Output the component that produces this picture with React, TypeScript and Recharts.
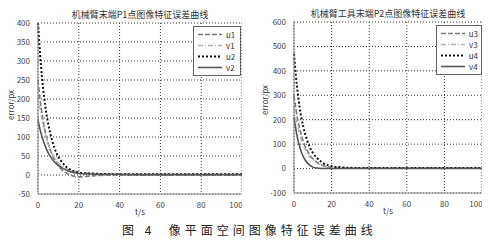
import { LineChart, Line, XAxis, YAxis, CartesianGrid } from "recharts";

const times = [0, 1, 2, 3, 4, 5, 6, 8, 10, 12, 15, 18, 20, 25, 30, 40, 50, 60, 70, 80, 90, 100];

// left panel (P1)
const u1 = [250, 200, 160, 128, 102, 82, 66, 42, 24, 12, 2, -4, -5, -3, -1, 0, 0, 0, 0, 0, 0, 0];
const v1 = [210, 175, 145, 120, 100, 83, 68, 46, 32, 23, 14, 10, 8, 5, 3, 2, 2, 2, 2, 2, 2, 2];
const u2 = [400, 320, 255, 205, 165, 135, 110, 72, 48, 32, 17, 9, 6, 4, 3, 2, 2, 2, 2, 2, 2, 2];
const v2 = [145, 120, 100, 84, 70, 58, 49, 35, 25, 18, 10, 6, 4, 3, 2, 2, 1, 1, 1, 1, 1, 1];

// right panel (P2)
const u3 = [300, 245, 200, 165, 135, 110, 90, 60, 40, 27, 14, 7, 5, 3, 2, 2, 2, 2, 2, 2, 2, 2];
const v3 = [250, 205, 170, 140, 115, 95, 78, 52, 35, 23, 12, 6, 4, 2, 1, 1, 1, 1, 1, 1, 1, 1];
const u4 = [470, 380, 310, 250, 205, 170, 140, 95, 65, 45, 25, 14, 10, 5, 3, 2, 2, 2, 2, 2, 2, 2];
const v4 = [210, 160, 120, 90, 66, 48, 34, 16, 6, 2, 0, 0, 0, 0, 0, 0, 0, 0, 0, 0, 0, 0];

const xTicks = [0, 20, 40, 60, 80, 100];
const leftYTicks = [-50, 0, 50, 100, 150, 200, 250, 300, 350, 400];
const rightYTicks = [-100, 0, 100, 200, 300, 400, 500, 600];

const leftNames = ["u1", "v1", "u2", "v2"];
const rightNames = ["u3", "v3", "u4", "v4"];

const leftData = times.map((t, i) => ({ t, u1: u1[i], v1: v1[i], u2: u2[i], v2: v2[i] }));
const rightData = times.map((t, i) => ({ t, u3: u3[i], v3: v3[i], u4: u4[i], v4: v4[i] }));

const styles = [
  { stroke: "#7a7a7a", dash: "5 2", width: 1.6 },
  { stroke: "#b0b0b0", dash: "5 2 1 2", width: 1.3 },
  { stroke: "#111111", dash: "2 2", width: 2 },
  { stroke: "#555555", dash: undefined, width: 1.6 },
];

const font = "'Noto Sans CJK SC', 'DejaVu Sans', sans-serif";
const tick = { fill: "#444", fontSize: 8, fontFamily: font };

const LegendBox = ({ names, left, top, width }: { names: string[]; left: number; top: number; width: number }) => (
  <div
    style={{
      position: "absolute",
      left,
      top,
      width,
      boxSizing: "border-box",
      background: "#fff",
      border: "1px solid #666",
      padding: "2px 3px",
      fontFamily: font,
      fontSize: 8,
      color: "#333",
      lineHeight: "11px",
    }}
  >
    {names.map((n, i) => (
      <div key={n} style={{ display: "flex", alignItems: "center" }}>
        <svg width={26} height={11}>
          <line
            x1={1}
            x2={25}
            y1={5.5}
            y2={5.5}
            stroke={styles[i].stroke}
            strokeWidth={styles[i].width}
            strokeDasharray={styles[i].dash}
          />
        </svg>
        <span style={{ marginLeft: 3 }}>{n}</span>
      </div>
    ))}
  </div>
);

const Panel = ({
  data,
  names,
  domain,
  yTicks,
  width,
}: {
  data: any[];
  names: string[];
  domain: [number, number];
  yTicks: number[];
  width: number;
}) => (
  <LineChart width={width} height={215} data={data} margin={{ top: 23, right: 0, left: 0, bottom: 1 }}>
    <CartesianGrid stroke="#333" strokeDasharray="1 2" />
    <XAxis
      dataKey="t"
      type="number"
      domain={[0, 100]}
      ticks={xTicks}
      tick={tick}
      height={20}
      stroke="#888"
      tickLine={false}
    />
    <YAxis
      type="number"
      domain={domain}
      ticks={yTicks}
      tick={tick}
      width={38}
      stroke="#888"
      tickLine={false}
      interval={0}
    />
    {names.map((n, i) => (
      <Line
        key={n}
        dataKey={n}
        type="monotone"
        dot={false}
        stroke={styles[i].stroke}
        strokeWidth={styles[i].width}
        strokeDasharray={styles[i].dash}
        isAnimationActive={false}
      />
    ))}
  </LineChart>
);

const textStyle = { position: "absolute" as const, fontFamily: font, color: "#333", whiteSpace: "nowrap" as const };

export default function App() {
  return (
    <div style={{ position: "absolute", left: 0, top: 0, width: 503, height: 242, background: "#fff", overflow: "hidden" }}>
      <div style={{ position: "absolute", left: 0, top: 0 }}>
        <Panel data={leftData} names={leftNames} domain={[-50, 400]} yTicks={leftYTicks} width={242} />
      </div>
      <div style={{ position: "absolute", left: 256, top: -1 }}>
        <Panel data={rightData} names={rightNames} domain={[-100, 600]} yTicks={rightYTicks} width={226} />
      </div>
      <LegendBox names={leftNames} left={193} top={26} width={48} />
      <LegendBox names={rightNames} left={436} top={25} width={46} />
      <div style={{ ...textStyle, left: 140, top: 8, fontSize: 9, transform: "translateX(-50%)" }}>机械臂末端P1点图像特征误差曲线</div>
      <div style={{ ...textStyle, left: 388, top: 7, fontSize: 9, transform: "translateX(-50%)" }}>机械臂工具末端P2点图像特征误差曲线</div>
      <div style={{ ...textStyle, left: 10, top: 105, fontSize: 8, transform: "translate(-50%,-50%) rotate(-90deg)" }}>error/px</div>
      <div style={{ ...textStyle, left: 264, top: 100, fontSize: 8, transform: "translate(-50%,-50%) rotate(-90deg)" }}>error/px</div>
      <div style={{ ...textStyle, left: 140, top: 206, fontSize: 8, transform: "translateX(-50%)" }}>t/s</div>
      <div style={{ ...textStyle, left: 388, top: 205, fontSize: 8, transform: "translateX(-50%)" }}>t/s</div>
      <div style={{ ...textStyle, left: 122, top: 221, fontSize: 12, letterSpacing: 4, color: "#222" }}>图 4&nbsp;&nbsp;像平面空间图像特征误差曲线</div>
    </div>
  );
}
